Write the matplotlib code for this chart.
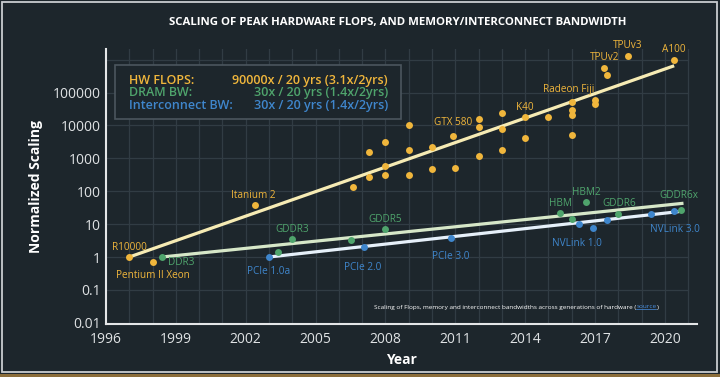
import numpy as np
import matplotlib
matplotlib.use("Agg")
import matplotlib.pyplot as plt
from matplotlib.patches import Rectangle

# peak hardware flops (normalized to R10000)
flops_years = [1997, 1998, 2002.4, 2006.6, 2007.3, 2007.3, 2008, 2008, 2008,
               2009, 2009, 2009, 2010, 2010, 2010.9, 2011, 2012, 2012, 2012,
               2013, 2013, 2013, 2014, 2014, 2015, 2016, 2016, 2016, 2016,
               2017, 2017, 2017.4, 2017.5, 2018.4, 2020.4]
flops_vals = [1, 0.69, 38, 132, 275, 1590, 3200, 600, 305,
              10200, 1780, 310, 2150, 470, 4650, 520, 15800, 9100, 1160,
              24300, 7600, 1730, 17600, 4240, 18300, 50500, 30000, 21400, 5200,
              61000, 44000, 557000, 333000, 1300000, 980000]
flops_fit_years = [1997, 2020.4]
flops_fit_vals = [1, 650000]

# DRAM bandwidth
dram_years = [1998.4, 2003.4, 2004.0, 2006.5, 2008.0, 2015.5, 2016.0, 2016.6, 2018.0, 2020.7]
dram_vals = [1.0, 1.39, 3.5, 3.4, 6.9, 21.7, 14, 46, 20, 27]
dram_fit_years = [1998.4, 2020.8]
dram_fit_vals = [1, 43]

# interconnect bandwidth
ic_years = [2003.0, 2007.1, 2010.8, 2016.3, 2016.9, 2017.5, 2019.4, 2020.4]
ic_vals = [1, 1.97, 3.7, 10, 7.6, 13.3, 20.8, 25.6]
ic_fit_years = [2003.0, 2020.6]
ic_fit_vals = [1, 24]

# labels: (text, year, value, x offset px, y offset px, ha)
flops_labels = [("R10000", 1997, 1, 0, 10, "center"),
                ("Pentium II Xeon", 1998, 0.69, 0, -13, "center"),
                ("Itanium 2", 2002.4, 38, -2, 10, "center"),
                ("GTX 580", 2012, 15800, -6, -4, "right"),
                ("K40", 2014, 17600, 0, 10, "center"),
                ("Radeon Fiji", 2016, 50500, -3, 13, "center"),
                ("TPUv2", 2017.4, 557000, 0, 10, "center"),
                ("TPUv3", 2018.4, 1300000, 0, 10, "center"),
                ("A100", 2020.4, 980000, 0, 10, "center")]
dram_labels = [("DDR3", 1998.4, 1.0, 6, -5, "left"),
               ("GDDR3", 2004.0, 3.5, 0, 10, "center"),
               ("GDDR5", 2008.0, 6.9, 0, 10, "center"),
               ("HBM", 2015.5, 21.7, 0, 10, "center"),
               ("HBM2", 2016.6, 46, 1, 10, "center"),
               ("GDDR6", 2018.0, 20, 1, 11, "center"),
               ("GDDR6x", 2020.7, 27, -2, 14, "center")]
ic_labels = [("PCIe 1.0a", 2003.0, 1, 0, -14, "center"),
             ("PCIe 2.0", 2007.1, 1.97, -2, -20, "center"),
             ("PCIe 3.0", 2010.8, 3.7, 0, -18, "center"),
             ("NVLink 1.0", 2016.3, 10, -2, -19, "center"),
             ("NVLink 3.0", 2020.4, 25.6, 1, -19, "center")]

x_ticks = [1996, 1999, 2002, 2005, 2008, 2011, 2014, 2017, 2020]
y_ticks = [0.01, 0.1, 1, 10, 100, 1000, 10000, 100000]
y_tick_labels = ["0.01", "0.1", "1", "10", "100", "1000", "10000", "100000"]

BG = "#1d262c"
GRID = "#313c44"
ORANGE = "#f0b63c"
GREEN = "#4fa46c"
BLUE = "#3f86cc"
FONT = ["Open Sans", "DejaVu Sans"]

plt.rcParams["font.family"] = FONT

fig = plt.figure(figsize=(7.2, 3.77), dpi=100, facecolor=BG)
W, H = 720, 377
ax = fig.add_axes([106 / W, 1 - 324 / H, (697 - 106) / W, (324 - 49) / H])
ax.set_facecolor(BG)
ax.set_yscale("log")
ax.set_xlim(1996, 2021.38)
ax.set_ylim(0.0092, 2.1e6)

# grid (ends at 2021 like the original)
for yr in range(1997, 2022):
    ax.plot([yr, yr], [0.0092, 2.1e6], color=GRID, lw=0.9, zorder=0)
for dec in [0.1, 1, 10, 100, 1000, 1e4, 1e5, 1e6]:
    ax.plot([1996, 2021], [dec, dec], color=GRID, lw=0.9, zorder=0)

# trend lines
ax.plot(flops_fit_years, flops_fit_vals, color="#f6ebb4", lw=2.3, zorder=2,
        solid_capstyle="butt")
ax.plot(dram_fit_years, dram_fit_vals, color="#d6e7c8", lw=2.3, zorder=2,
        solid_capstyle="butt")
ax.plot(ic_fit_years, ic_fit_vals, color="#e6f0fa", lw=2.3, zorder=2,
        solid_capstyle="butt")

# points
ax.plot(flops_years, flops_vals, "o", color=ORANGE, ms=5, mew=0, zorder=3)
ax.plot(dram_years, dram_vals, "o", color=GREEN, ms=5, mew=0, zorder=3)
ax.plot(ic_years, ic_vals, "o", color=BLUE, ms=5, mew=0, zorder=3)

for labels, col in [(flops_labels, ORANGE), (dram_labels, GREEN), (ic_labels, BLUE)]:
    for txt, x, y, dx, dy, ha in labels:
        ax.annotate(txt, (x, y), xytext=(dx * 0.72, dy * 0.72), textcoords="offset points",
                    ha=ha, va="center", color=col, fontsize=7.2)

# axes styling
for s in ["top", "right"]:
    ax.spines[s].set_visible(False)
for s in ["left", "bottom"]:
    ax.spines[s].set_color("#e4e6e8")
    ax.spines[s].set_linewidth(1.5)
ax.spines["bottom"].set_zorder(4)
ax.set_xticks(x_ticks)
ax.set_xticklabels([str(x) for x in x_ticks])
ax.set_yticks(y_ticks)
ax.set_yticklabels(y_tick_labels)
ax.minorticks_off()
ax.tick_params(length=0, colors="#dfe2e4", labelsize=10, pad=4)
ax.tick_params(axis="x", pad=6)
ax.set_xlabel("Year", color="white", fontsize=10, fontweight="bold", labelpad=4)
ax.set_ylabel("Normalized Scaling", color="white", fontsize=10, fontweight="bold", labelpad=7)

# legend box
leg = Rectangle((115 / W, 1 - 119 / H), (401 - 115) / W, (119 - 65) / H,
                transform=fig.transFigure, facecolor=BG, edgecolor="#4b565e", lw=1.2, zorder=1)
fig.patches.append(leg)
rows = [("HW FLOPS:", "90000x / 20 yrs (3.1x/2yrs)", ORANGE, 80.5),
        ("DRAM BW:", "30x / 20 yrs (1.4x/2yrs)", GREEN, 92.5),
        ("Interconnect BW:", "30x / 20 yrs (1.4x/2yrs)", BLUE, 105.5)]
for name, rate, col, yp in rows:
    fig.text(129 / W, 1 - yp / H, name, color=col, fontsize=9, fontweight="semibold",
             va="center", ha="left", zorder=6)
    fig.text(388 / W, 1 - yp / H, rate, color=col, fontsize=9, fontweight="semibold",
             va="center", ha="right", zorder=6)

fig.text(398 / W, 1 - 22 / H, "SCALING OF PEAK HARDWARE FLOPS, AND MEMORY/INTERCONNECT BANDWIDTH",
         color="white", fontsize=8.2, fontweight="bold", ha="center", va="center")

# caption with blue "source" link
CAP_SIZE = 4.6
fig.canvas.draw()
r = fig.canvas.get_renderer()
cap = fig.text(374 / W, 1 - 307 / H,
               "Scaling of Flops, memory and interconnect bandwidths across generations of hardware (",
               color="white", fontsize=CAP_SIZE, va="center", ha="left", zorder=6)
bb = cap.get_window_extent(r)
src = fig.text(bb.x1 / W, 1 - 307 / H, "source", color="#4a90e2", fontsize=CAP_SIZE,
               va="center", ha="left", zorder=6)
bb2 = src.get_window_extent(r)
fig.lines.append(plt.Line2D([bb2.x0 / W, bb2.x1 / W], [(bb2.y0 + 0.5) / H, (bb2.y0 + 0.5) / H],
                            transform=fig.transFigure, color="#4a90e2", lw=0.5))
fig.text(bb2.x1 / W, 1 - 307 / H, ")", color="white", fontsize=CAP_SIZE, va="center", ha="left")

# frame of the screenshot
fig.patches.append(Rectangle((1.5 / W, 1 - 372 / H), (717 - 1.5) / W, (372 - 1.5) / H,
                             transform=fig.transFigure, fill=False, edgecolor="#c9cdd0", lw=1.3))
fig.patches.append(Rectangle((0, 0), 1, 3 / H, transform=fig.transFigure,
                             facecolor="#8b6d3a", edgecolor="none"))

fig.savefig("out.png", dpi=100, facecolor=BG)
